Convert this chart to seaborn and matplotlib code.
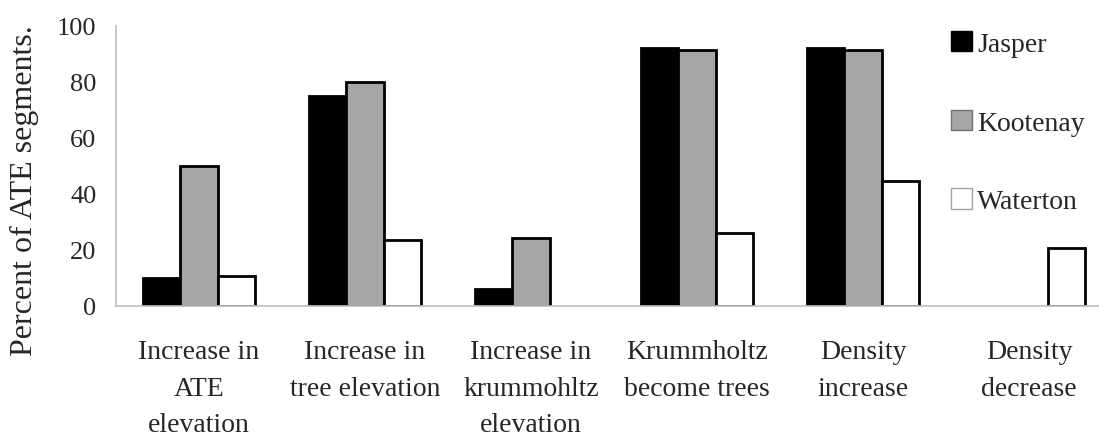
import numpy as np
import pandas as pd
import matplotlib.pyplot as plt
import seaborn as sns
from matplotlib.patches import Patch

categories = ['Increase in\nATE\nelevation', 'Increase in\ntree elevation',
              'Increase in\nkrummohltz\nelevation', 'Krummholtz\nbecome trees',
              'Density\nincrease', 'Density\ndecrease']
parks = ['Jasper', 'Kootenay', 'Waterton']
jasper = [10, 75, 6, 92, 92, 0]
kootenay = [50, 80, 24.3, 91.5, 91.3, 0]
waterton = [10.8, 23.7, 0, 26, 44.5, 20.8]
colors = ['#000000', '#A6A6A6', '#FFFFFF']

df = pd.DataFrame({
    'category': categories * 3,
    'park': [p for p in parks for _ in categories],
    'value': jasper + kootenay + waterton,
})

sns.set_style('white')
plt.rcParams['font.family'] = ['Liberation Serif', 'DejaVu Serif']

fig = plt.figure(figsize=(10.99, 4.39), dpi=100)
ax = fig.add_axes([116 / 1099, 1 - 307 / 439, 996 / 1099, 280 / 439])

sns.barplot(data=df, x='category', y='value', hue='park', order=categories,
            hue_order=parks, palette=colors, width=0.67, gap=0,
            edgecolor='black', linewidth=2, saturation=1, legend=False, ax=ax)

# empty bars should not leave an outline on the axis
for p in ax.patches:
    if p.get_height() == 0:
        p.set_visible(False)

ax.set_xlim(-0.5, 5.5)
ax.set_ylim(0, 100)
ax.set_yticks(np.arange(0, 101, 20))
ax.set_xlabel('')
ax.set_ylabel('Percent of ATE segments.', fontsize=23)
ax.yaxis.set_label_coords(-0.077, 0.414)

for s in ['top', 'right']:
    ax.spines[s].set_visible(False)
for s in ['left', 'bottom']:
    ax.spines[s].set_color('#BFBFBF')
    ax.spines[s].set_linewidth(1.2)

ax.tick_params(axis='y', length=0, labelsize=19, pad=14)
ax.tick_params(axis='x', length=0, labelsize=20, pad=24)
for lab in ax.get_xticklabels():
    lab.set_linespacing(1.6)
ax.set_xticks(np.arange(0.5, 5.5, 1), minor=True)
ax.tick_params(axis='x', which='minor', direction='in', length=6,
               color='#BFBFBF', width=1.2)

handles = [Patch(facecolor=c, edgecolor=e, linewidth=1)
           for c, e in zip(colors, ['#000000', '#707070', '#A0A0A0'])]
fig.legend(handles, parks, loc='upper left', bbox_to_anchor=(951 / 1099, 1 - 32 / 439),
           frameon=False, fontsize=20, handlelength=0.75, handleheight=0.75,
           handletextpad=0.2, labelspacing=1.9, borderpad=0, borderaxespad=0)

fig.savefig('out.png', dpi=100)
